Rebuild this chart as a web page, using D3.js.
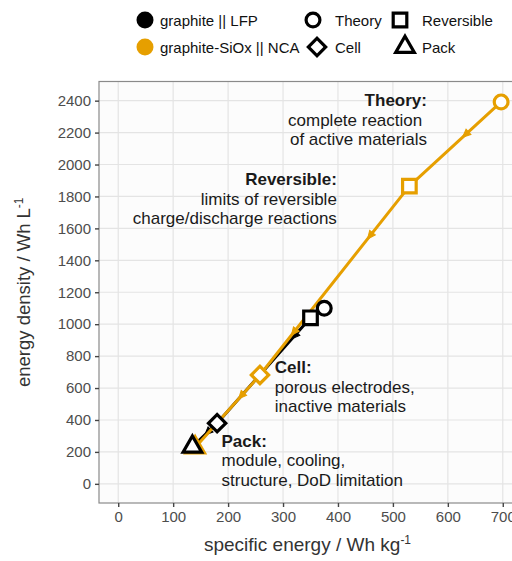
<!DOCTYPE html>
<html>
<head>
<meta charset="utf-8">
<script src="https://cdn.jsdelivr.net/npm/d3@7"></script>
<style>
  body { margin: 0; background: #fff; }
  svg text { font-family: "Liberation Sans", Arial, sans-serif; }
</style>
</head>
<body>
<svg id="chart" width="512" height="561"></svg>
<script>
// Energy content of a Li-ion battery at each level: theory -> reversible -> cell -> pack
const stages = ["Theory", "Reversible", "Cell", "Pack"];
const stageShapes = ["circle", "square", "diamond", "triangle"];

const seriesNames = ["graphite || LFP", "graphite-SiOx || NCA"];
const seriesColors = ["#000000", "#E69F00"];

// specific energy (Wh/kg) and energy density (Wh/L), one value per stage
const lfpSpecific = [375, 350, 180, 135];
const lfpDensity = [1100, 1040, 380, 232];
const ncaSpecific = [697, 530, 258, 140];
const ncaDensity = [2392, 1865, 682, 228];

// where the direction arrows sit along each segment (fraction of segment)
const lfpArrows = [[0.5], [0.2], [0.5]];
const ncaArrows = [[0.42], [0.28, 0.79], [0.33]];

const xTicks = [0, 100, 200, 300, 400, 500, 600, 700];
const yTicks = [0, 200, 400, 600, 800, 1000, 1200, 1400, 1600, 1800, 2000, 2200, 2400];

// stage annotations: title, description lines, anchor (data units), alignment
const notes = [
  { title: "Theory:", lines: ["complete reaction ", "of active materials"], x: 562, y: 2366, anchor: "end" },
  { title: "Reversible:", lines: ["limits of reversible", "charge/discharge reactions"], x: 398, y: 1871, anchor: "end" },
  { title: "Cell:", lines: ["porous electrodes,", "inactive materials"], x: 285, y: 694, anchor: "start" },
  { title: "Pack:", lines: ["module, cooling,", "structure, DoD limitation"], x: 188, y: 232, anchor: "start" }
];

const series = [
  { name: seriesNames[0], color: seriesColors[0], xs: lfpSpecific, ys: lfpDensity, arrows: lfpArrows },
  { name: seriesNames[1], color: seriesColors[1], xs: ncaSpecific, ys: ncaDensity, arrows: ncaArrows }
];

const svg = d3.select("#chart");
const panel = { left: 99, right: 522, top: 81.5, bottom: 503 };

const x = d3.scaleLinear().domain([-35, 735]).range([panel.left, panel.right]);
const y = d3.scaleLinear().domain([-120, 2520]).range([panel.bottom, panel.top]);

// panel background and grid
svg.append("rect")
  .attr("x", panel.left).attr("y", panel.top)
  .attr("width", panel.right - panel.left).attr("height", panel.bottom - panel.top)
  .attr("fill", "#fcfcfc");

const grid = svg.append("g").attr("stroke", "#e4e4e4").attr("stroke-width", 1.2);
grid.selectAll("line.gx").data(xTicks).join("line")
  .attr("x1", d => x(d)).attr("x2", d => x(d))
  .attr("y1", panel.top).attr("y2", panel.bottom);
grid.selectAll("line.gy").data(yTicks).join("line")
  .attr("y1", d => y(d)).attr("y2", d => y(d))
  .attr("x1", panel.left).attr("x2", panel.right);

svg.append("rect")
  .attr("x", panel.left).attr("y", panel.top)
  .attr("width", panel.right - panel.left).attr("height", panel.bottom - panel.top)
  .attr("fill", "none").attr("stroke", "#8a8a8a").attr("stroke-width", 1.2);

// axes
const xAxis = svg.append("g")
  .attr("transform", `translate(0,${panel.bottom})`)
  .call(d3.axisBottom(x).tickValues(xTicks).tickSize(4).tickPadding(4).tickFormat(d3.format("d")));
const yAxis = svg.append("g")
  .attr("transform", `translate(${panel.left},0)`)
  .call(d3.axisLeft(y).tickValues(yTicks).tickSize(4).tickPadding(4).tickFormat(d3.format("d")));
[xAxis, yAxis].forEach(a => {
  a.select(".domain").remove();
  a.selectAll(".tick line").attr("stroke", "#444").attr("stroke-width", 1.4);
  a.selectAll(".tick text").attr("fill", "#4d4d4d").style("font-size", "15px")
    .style("font-family", '"Liberation Sans", Arial, sans-serif');
});

// axis titles
const xTitle = svg.append("text")
  .attr("x", (panel.left + panel.right) / 2 - 3).attr("y", 551)
  .attr("text-anchor", "middle").attr("fill", "#333").style("font-size", "19px");
xTitle.append("tspan").text("specific energy / Wh kg");
xTitle.append("tspan").attr("dy", -7).style("font-size", "12px").text("-1");

const yTitle = svg.append("text")
  .attr("transform", `translate(29.5,${(panel.top + panel.bottom) / 2}) rotate(-90)`)
  .attr("text-anchor", "middle").attr("fill", "#333").style("font-size", "18.5px");
yTitle.append("tspan").text("energy density / Wh L");
yTitle.append("tspan").attr("dy", -7).style("font-size", "12px").text("-1");

// marker shapes
const symbolOf = {
  circle: d3.symbol().type(d3.symbolCircle).size(150),
  square: d3.symbol().type(d3.symbolSquare).size(185),
  diamond: d3.symbol().type(d3.symbolSquare).size(150),
  triangle: d3.symbol().type(d3.symbolTriangle).size(150)
};
function drawMarker(g, shape, cx, cy, color, fill, sw) {
  const rot = shape === "diamond" ? 45 : 0;
  g.append("path")
    .attr("d", symbolOf[shape]())
    .attr("transform", `translate(${cx},${cy}) rotate(${rot})`)
    .attr("fill", fill).attr("stroke", color).attr("stroke-width", sw)
    .attr("stroke-linejoin", "miter");
}

// lines with direction arrows
const lineGen = d3.line().x(d => x(d[0])).y(d => y(d[1]));
const linesG = svg.append("g");
series.forEach(s => {
  const pts = s.xs.map((v, i) => [v, s.ys[i]]);
  linesG.append("path").attr("d", lineGen(pts))
    .attr("fill", "none").attr("stroke", s.color).attr("stroke-width", 3)
    .attr("stroke-linejoin", "round");
  s.arrows.forEach((fracs, i) => {
    const x0 = x(pts[i][0]), y0 = y(pts[i][1]);
    const x1 = x(pts[i + 1][0]), y1 = y(pts[i + 1][1]);
    const ang = Math.atan2(y1 - y0, x1 - x0) * 180 / Math.PI;
    fracs.forEach(f => {
      const tx = x0 + (x1 - x0) * f, ty = y0 + (y1 - y0) * f;
      linesG.append("path")
        .attr("d", "M0,0 L-8,-3.6 L-8,3.6 Z")
        .attr("transform", `translate(${tx},${ty}) rotate(${ang})`)
        .attr("fill", s.color).attr("stroke", s.color).attr("stroke-width", 1);
    });
  });
});

// stage markers, orange first so black sits on top
const markG = svg.append("g");
[series[1], series[0]].forEach(s => {
  s.xs.forEach((v, i) => {
    drawMarker(markG, stageShapes[i], x(v), y(s.ys[i]), s.color, "#fff", 3.2);
  });
});

// annotations
const lineStep = 19.5;
notes.forEach(n => {
  const t = svg.append("text")
    .attr("x", x(n.x)).attr("y", y(n.y))
    .attr("text-anchor", n.anchor).attr("fill", "#1a1a1a")
    .style("font-size", "17px").style("white-space", "pre");
  t.append("tspan").attr("x", x(n.x)).attr("font-weight", "bold").text(n.title);
  n.lines.forEach(l => t.append("tspan").attr("x", x(n.x)).attr("dy", lineStep).text(l));
});

// legend
const leg = svg.append("g");
series.forEach((s, i) => {
  const cy = 20 + i * 27;
  leg.append("circle").attr("cx", 145).attr("cy", cy).attr("r", 8.5).attr("fill", s.color);
  leg.append("text").attr("x", 160).attr("y", cy + 5.5).attr("fill", "#111")
    .style("font-size", "15px").text(s.name);
});
const legPos = [[313, 20, 335], [400, 20, 422], [317, 47, 335], [405, 47, 422]];
stages.forEach((st, i) => {
  const [mx, my, tx] = legPos[i];
  drawMarker(leg, stageShapes[i], mx, my, "#000", "#fff", 3.2);
  leg.append("text").attr("x", tx).attr("y", my + 5.5).attr("fill", "#111")
    .style("font-size", "15px").text(st);
});
</script>
</body>
</html>
